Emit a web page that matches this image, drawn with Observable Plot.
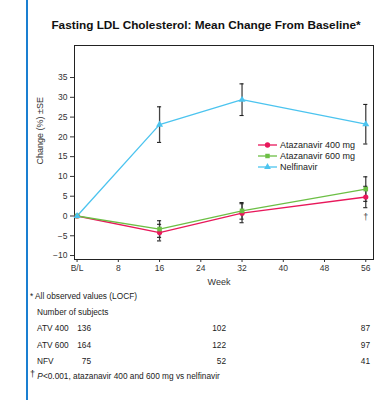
<!DOCTYPE html>
<html>
<head>
<meta charset="utf-8">
<script src="https://cdn.jsdelivr.net/npm/d3@7"></script>
<script src="https://cdn.jsdelivr.net/npm/@observablehq/plot@0.6"></script>
<style>
  html, body { margin: 0; padding: 0; background: #fff; }
  #page { position: relative; width: 377px; height: 402px; font-family: "Liberation Sans", Arial, sans-serif; color: #222; overflow: hidden; }
  #bar { position: absolute; left: 25.5px; top: 0; width: 2.5px; height: 400px; background: #1a7fd1; }
  #title { position: absolute; left: 0; width: 412px; top: 18px; text-align: center; font-weight: bold; font-size: 11.8px; color: #111; white-space: nowrap; }
  #chart { position: absolute; left: 0; top: 35px; }
  .fn { position: absolute; font-size: 8.3px; color: #222; white-space: nowrap; line-height: 10px; }
  .num { text-align: right; width: 30px; }
  #legend { position: absolute; left: 258px; top: 139px; font-size: 9px; color: #222; }
  #legend .row { display: flex; align-items: center; height: 11.2px; white-space: nowrap; }
  #legend svg { margin-right: 3px; }
</style>
</head>
<body>
<div id="page">
  <div id="bar"></div>
  <div id="title"></div>
  <div id="chart"></div>
  <div id="legend"></div>
  <div id="notes"></div>
</div>
<script>
const title = "Fasting LDL Cholesterol: Mean Change From Baseline*";
const weeks = [0, 16, 32, 56];
const seriesNames = ["Atazanavir 400 mg", "Atazanavir 600 mg", "Nelfinavir"];
const atv400 = [0, -4.2, 0.7, 4.8];
const atv400se = [0, 2.1, 2.4, 2.7];
const atv600 = [0, -3.3, 1.3, 6.8];
const atv600se = [0, 2.1, 2.1, 3.1];
const nfv = [0, 23.1, 29.4, 23.2];
const nfvse = [0, 4.5, 4.0, 5.0];
const xTicks = [0, 8, 16, 24, 32, 40, 48, 56];
const xTickLabels = ["B/L", "8", "16", "24", "32", "40", "48", "56"];
const yTicks = [-10, -5, 0, 5, 10, 15, 20, 25, 30, 35];
const yLabel = "Change (%) \u00b1SE";
const xLabel = "Week";
const footnoteStar = "* All observed values (LOCF)";
const subjectsTitle = "Number of subjects";
const subjectGroups = ["ATV 400", "ATV 600", "NFV"];
const subjectCounts = [[136, 102, 87], [164, 122, 97], [75, 52, 41]];
const daggerNote = "<0.001, atazanavir 400 and 600 mg vs nelfinavir";

const colors = ["#e8185b", "#6cbf45", "#4cc4ef"];
const symbols = ["circle", "square", "triangle"];

const values = [atv400, atv600, nfv];
const ses = [atv400se, atv600se, nfvse];
const data = [];
seriesNames.forEach((s, i) => weeks.forEach((w, j) => data.push({series: s, week: w, value: values[i][j], se: ses[i][j]})));
const errData = data.filter(d => d.se > 0);
const dagger = data.filter(d => d.series === seriesNames[0] && d.week === 56);

document.getElementById("title").textContent = title;

const color = {domain: seriesNames, range: colors};
const tickMap = new Map(xTicks.map((t, i) => [t, xTickLabels[i]]));

const plot = Plot.plot({
  width: 377, height: 265,
  marginLeft: 74, marginRight: 4, marginTop: 10, marginBottom: 41,
  style: {fontFamily: "'Liberation Sans', Arial, sans-serif", fontSize: "8.5px", color: "#333", background: "transparent", overflow: "visible"},
  x: {domain: [-0.5, 57.5], ticks: xTicks, tickFormat: d => tickMap.get(d), tickSize: 3, tickPadding: 2, label: null},
  y: {domain: [-11, 43.1], ticks: yTicks, tickSize: 4, tickPadding: 3, label: null},
  color,
  symbol: {domain: seriesNames, range: symbols},
  marks: [
    Plot.frame({stroke: "#222", strokeWidth: 1}),
    Plot.ruleX(errData, {x: "week", y1: d => d.value - d.se, y2: d => d.value + d.se, stroke: "#444", strokeWidth: 1.3}),
    Plot.ruleY(errData, {y: d => d.value + d.se, x1: d => d.week - 0.4, x2: d => d.week + 0.4, stroke: "#222", strokeWidth: 1.1}),
    Plot.ruleY(errData, {y: d => d.value - d.se, x1: d => d.week - 0.4, x2: d => d.week + 0.4, stroke: "#222", strokeWidth: 1.1}),
    Plot.line(data, {x: "week", y: "value", z: "series", stroke: "series", strokeWidth: 1.3}),
    Plot.dot(data, {x: "week", y: "value", fill: "series", symbol: "series", r: 2.6, stroke: null}),
    Plot.text(dagger, {x: "week", y: d => d.value - d.se, text: () => "\u2020", dy: 9, fill: "#444", fontSize: 9}),
    Plot.text([yLabel], {frameAnchor: "left", rotate: -90, dx: -34, dy: 12, fontSize: 9, fill: "#333"}),
    Plot.text([xLabel], {frameAnchor: "bottom", dx: -5, dy: 25, fontSize: 9, fill: "#333"})
  ]
});
document.getElementById("chart").appendChild(plot);

// legend
const legend = document.getElementById("legend");
seriesNames.forEach((s, i) => {
  const row = document.createElement("div");
  row.className = "row";
  const sym = d3.symbol(i === 0 ? d3.symbolCircle : i === 1 ? d3.symbolSquare : d3.symbolTriangle, i === 0 ? 22 : 20)();
  row.innerHTML = `<svg width="19" height="10"><line x1="0" x2="19" y1="5" y2="5" stroke="${colors[i]}" stroke-width="1.3"/><path d="${sym}" transform="translate(9.5,5)" fill="${colors[i]}"/></svg><span>${s}</span>`;
  legend.appendChild(row);
});

// footnotes
const notes = document.getElementById("notes");
function addNote(html, left, cy, cls) {
  const d = document.createElement("div");
  d.className = "fn" + (cls ? " " + cls : "");
  d.style.left = left + "px";
  d.style.top = (cy - 5) + "px";
  d.innerHTML = html;
  notes.appendChild(d);
  return d;
}
addNote(footnoteStar, 30, 296);
addNote(subjectsTitle, 37, 312);
const rowY = [328, 345, 361];
const numRight = [91, 226, 370];
subjectGroups.forEach((g, i) => {
  addNote(g, 37, rowY[i]);
  subjectCounts[i].forEach((c, j) => addNote(String(c), numRight[j] - 30, rowY[i], "num"));
});
addNote(`<span style="font-size:9px;position:relative;top:-2px">\u2020</span> <i>P</i>${daggerNote}`, 30, 375.5);
</script>
</body>
</html>
